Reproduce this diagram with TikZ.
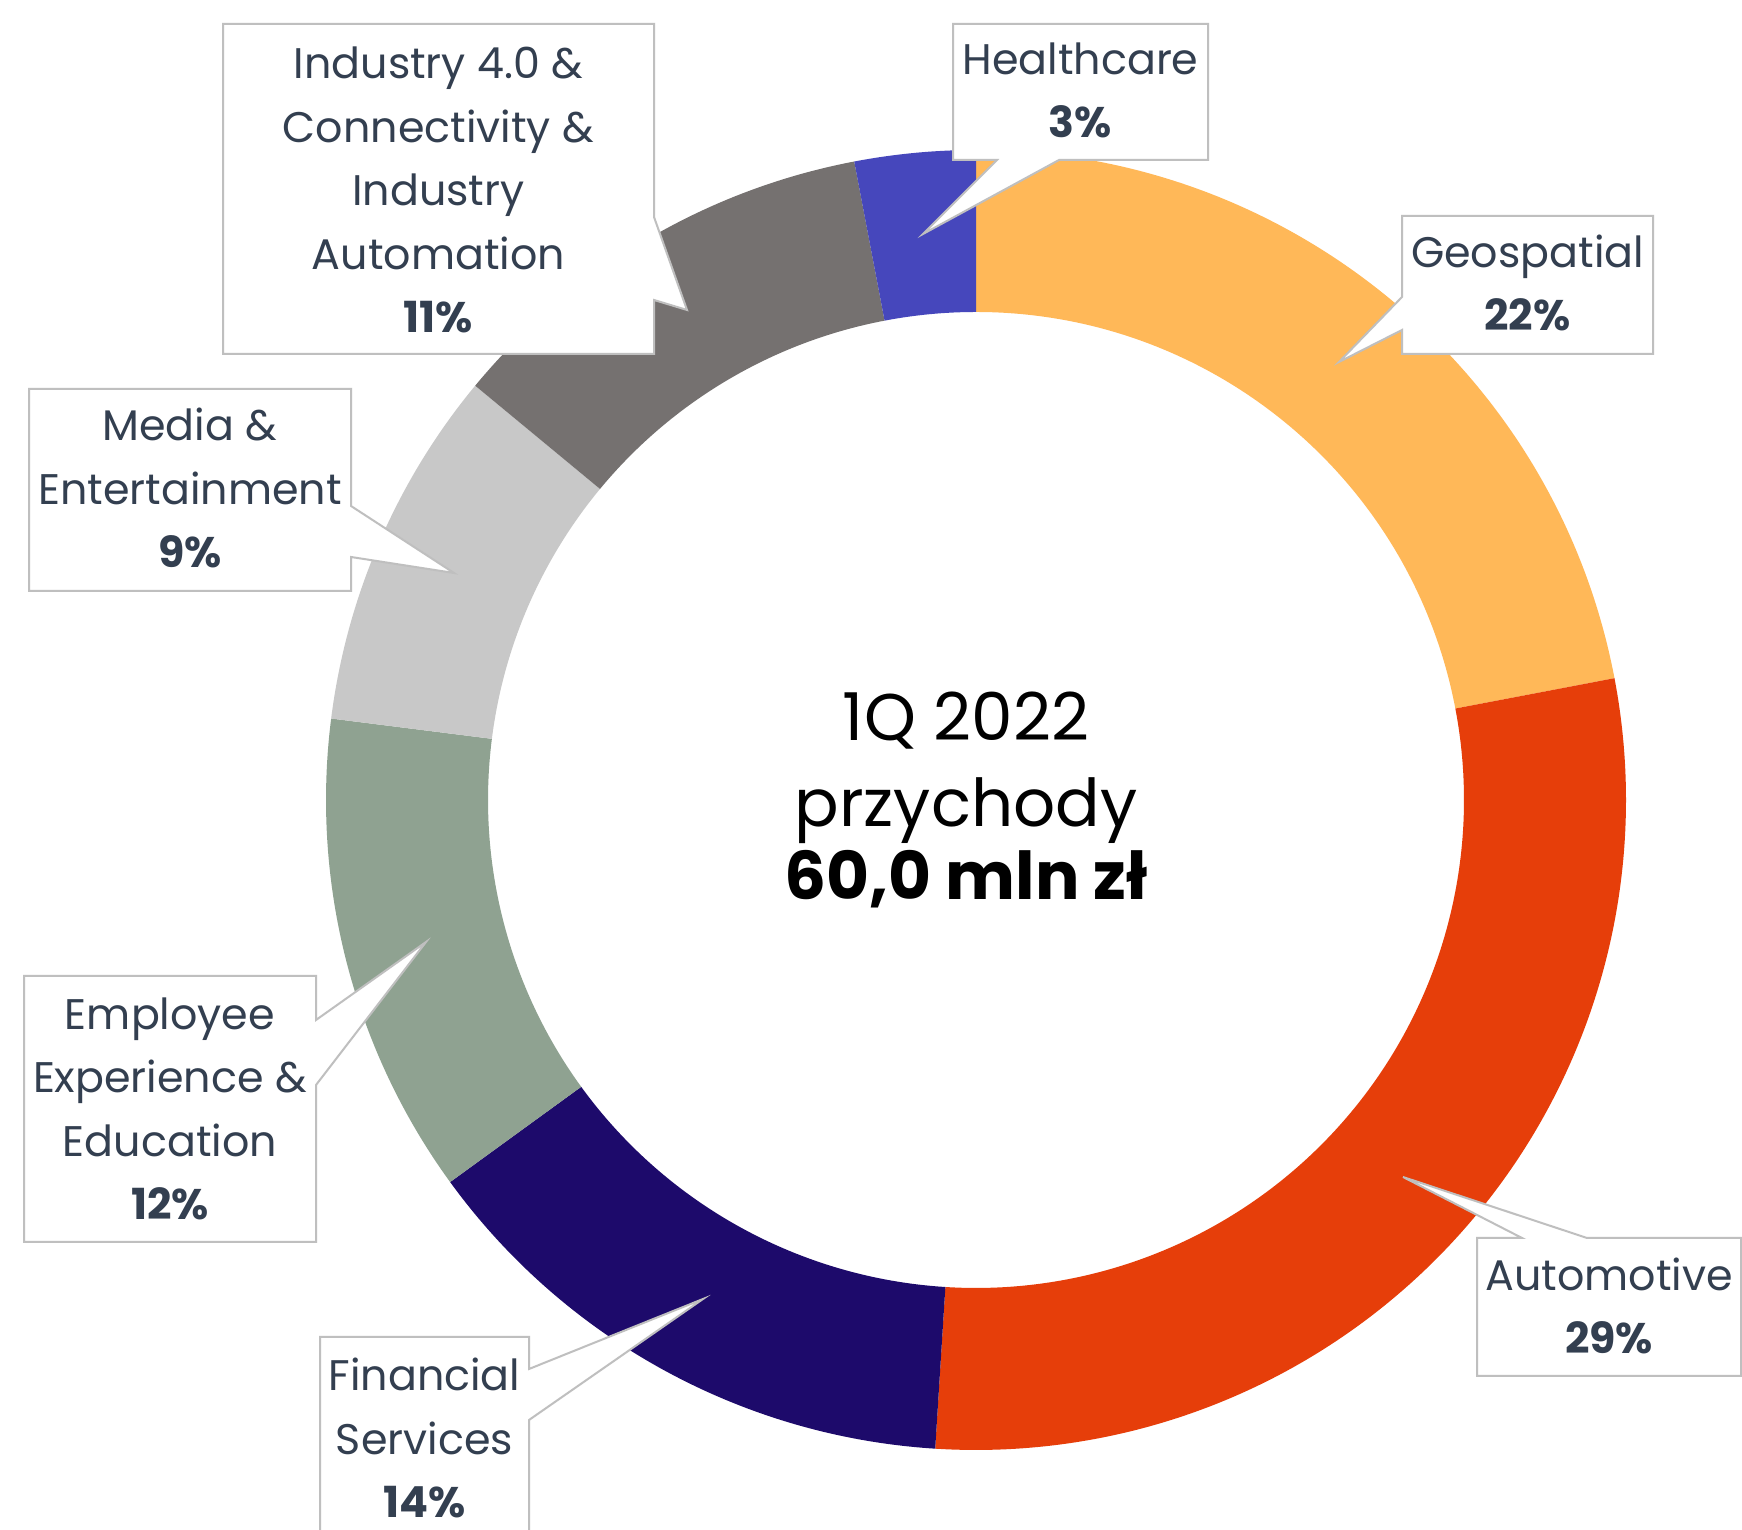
\documentclass[tikz,border=0pt]{standalone}
\usepackage{fontspec}
\setmainfont{Poppins}
\usetikzlibrary{calc}
\definecolor{cGeo}{HTML}{FFB858}
\definecolor{cAuto}{HTML}{E63E0A}
\definecolor{cFin}{HTML}{1D0A6B}
\definecolor{cEmp}{HTML}{8FA291}
\definecolor{cMed}{HTML}{C8C8C8}
\definecolor{cInd}{HTML}{757170}
\definecolor{cHea}{HTML}{4647BC}
\definecolor{labelc}{HTML}{333F50}
\definecolor{bordc}{HTML}{BFBFBF}
\newcommand{\ringseg}[3]{%
  \fill[#3] ($(c)+(#1:650)$) arc[start angle=#1,end angle=#2,radius=650]
    -- ($(c)+(#2:488)$) arc[start angle=#2,end angle=#1,radius=488] -- cycle;}
\begin{document}
\begin{tikzpicture}[x=1pt,y=1pt,
  labeltext/.style={font=\fontsize{42.8}{63.5}\selectfont, text=labelc, align=center, anchor=base, inner sep=0pt},
  centertext/.style={font=\fontsize{66}{86}\selectfont, text=black, align=center, anchor=base, inner sep=0pt},
  callout/.style={fill=white, draw=bordc, line width=2pt, line join=miter}]
\clip (0,0) rectangle (1742,1530);
\fill[white] (0,0) rectangle (1742,1530);
\coordinate (c) at (976,730);
% ring segments
\ringseg{90}{10.8}{cGeo}
\ringseg{10.8}{-93.6}{cAuto}
\ringseg{-93.6}{-144}{cFin}
\ringseg{-144}{-187.2}{cEmp}
\ringseg{-187.2}{-219.6}{cMed}
\ringseg{-219.6}{-259.2}{cInd}
\ringseg{-259.2}{-270}{cHea}
% callout boxes
\draw[callout] (223,1506) -- (654,1506) -- (654,1313) -- (687,1220) -- (654,1230) -- (654,1176) -- (223,1176) -- cycle;
\draw[callout] (953,1506) -- (1208,1506) -- (1208,1370) -- (1059,1370) -- (923,1296) -- (997,1370) -- (953,1370) -- cycle;
\draw[callout] (1402,1314) -- (1653,1314) -- (1653,1176) -- (1402,1176) -- (1402,1200) -- (1339,1168) -- (1402,1233) -- cycle;
\draw[callout] (29,1141) -- (351,1141) -- (351,1024) -- (454,957) -- (351,973) -- (351,939) -- (29,939) -- cycle;
\draw[callout] (24,554) -- (316,554) -- (316,510) -- (426,588) -- (316,445) -- (316,288) -- (24,288) -- cycle;
\draw[callout] (320,193) -- (529,193) -- (529,161) -- (703,231) -- (529,110) -- (529,-20) -- (320,-20) -- cycle;
\draw[callout] (1477,292) -- (1522,292) -- (1403,353) -- (1587,292) -- (1741,292) -- (1741,154) -- (1477,154) -- cycle;
% labels (base anchor = baseline of the last line)
\node[labeltext] (ind) at (438.5,1197) {Industry 4.0 \&\\Connectivity \&\\Industry\\Automation\\\textbf{11\%}};
\node[labeltext] (hea) at (1080.5,1392) {Healthcare\\\textbf{3\%}};
\node[labeltext] (geo) at (1527.5,1199) {Geospatial\\\textbf{22\%}};
\node[labeltext] (med) at (190,962) {Media \&\\Entertainment\\\textbf{9\%}};
\node[labeltext] (emp) at (170,310) {Employee\\Experience \&\\Education\\\textbf{12\%}};
\node[labeltext] (fin) at (424.5,12) {Financial\\Services\\\textbf{14\%}};
\node[labeltext] (aut) at (1609,176) {Automotive\\\textbf{29\%}};
\node[centertext] (ctr) at (966,630) {1Q 2022\\przychody\\[-13pt]\textbf{60,0 mln zł}};
\end{tikzpicture}
\end{document}
